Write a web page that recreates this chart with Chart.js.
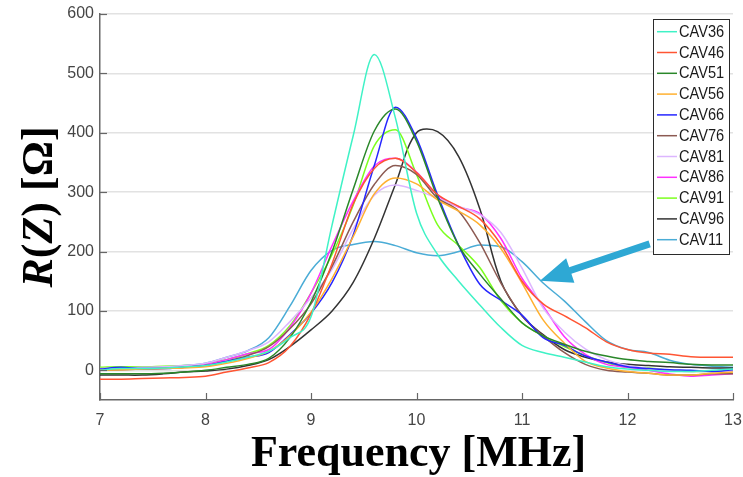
<!DOCTYPE html>
<html>
<head>
<meta charset="utf-8">
<script src="https://cdn.jsdelivr.net/npm/chart.js@4/dist/chart.umd.min.js"></script>
<style>
  html, body { margin: 0; padding: 0; background: #ffffff; }
  #wrap { width: 743px; height: 477px; position: relative; }
</style>
</head>
<body>
<div id="wrap"><canvas id="c" width="743" height="477"></canvas></div>
<script>
// ---------- data ----------
const freq = [7.0,7.2,7.4,7.6,7.8,8.0,8.2,8.4,8.6,8.8,9.0,9.2,9.4,9.6,9.8,10.0,10.2,10.4,10.6,10.8,11.0,11.2,11.4,11.6,11.8,12.0,12.2,12.4,12.6,12.8,13.0];
const seriesNames = ["CAV36","CAV46","CAV51","CAV56","CAV66","CAV76","CAV81","CAV86","CAV91","CAV96","CAV11"];
const cav36 = [0,3,3,4,6,8,14,22,32,55,90,245,395,532,425,265,195,150,110,72,42,30,22,14,6,2,0,-2,-2,0,2];
const cav46 = [-15,-15,-14,-13,-12,-10,-3,4,13,40,95,180,280,340,357,333,296,276,255,212,150,112,92,72,48,35,29,27,23,22,22];
const cav51 = [-6,-6,-6,-5,-3,0,5,10,20,55,115,200,305,403,440,386,290,210,162,120,80,58,44,32,24,18,15,13,10,9,9];
const cav56 = [0,1,2,3,4,6,12,20,32,58,98,155,225,297,324,314,287,268,245,205,147,85,46,15,4,-2,-5,-8,-8,-5,-3];
const cav66 = [2,5,3,3,5,8,15,22,30,60,96,148,228,345,443,391,295,210,145,118,93,55,42,24,14,6,3,1,0,-2,1];
const cav76 = [0,1,2,3,5,8,15,25,40,70,112,175,250,313,345,330,290,268,215,147,92,58,30,10,0,-3,-5,-8,-8,-6,-6];
const cav81 = [3,4,5,6,8,12,22,33,48,82,122,170,238,295,312,303,290,276,262,232,172,105,65,36,18,8,3,0,-2,-2,-2];
const cav86 = [2,3,4,5,7,10,18,28,35,72,130,210,285,344,357,334,295,275,264,222,155,108,57,27,10,5,0,-6,-10,-8,-6];
const cav91 = [5,6,6,7,8,10,18,28,42,75,130,195,278,378,405,330,245,210,173,117,80,58,40,25,13,5,4,0,-2,-2,-2];
const cav96 = [-8,-8,-8,-6,-3,-1,2,8,18,40,68,100,148,222,313,400,402,360,272,150,92,60,35,22,14,10,8,6,5,4,4];
const cav11 = [2,6,3,5,8,12,22,33,55,108,168,202,212,217,210,198,193,200,211,208,183,147,117,82,50,35,30,17,10,7,5];
const xTicks = [7,8,9,10,11,12,13];
const yTicks = [0,100,200,300,400,500,600];
const xTitle = "Frequency [MHz]";
const arrowFrom = [12.21, 213];
const arrowTo = [11.17, 151];

// ---------- styles ----------
const seriesValues = [cav36,cav46,cav51,cav56,cav66,cav76,cav81,cav86,cav91,cav96,cav11];
const colors = ["#3ff2c6","#ff5533","#2a872a","#ffb030","#2626ff","#8c5a52","#dcb6ff","#ff30ff","#7cff1e","#333333","#4aacd6"];

const datasets = seriesNames.map((name, i) => ({
  label: name,
  data: freq.map((f, j) => ({ x: f, y: seriesValues[i][j] })),
  borderColor: colors[i],
  backgroundColor: colors[i],
  borderWidth: 1.5,
  pointRadius: 0,
  fill: false,
  cubicInterpolationMode: name === 'CAV96' ? 'default' : 'monotone',
  tension: 0.35
}));

const decorPlugin = {
  id: 'decor',
  afterDatasetsDraw(chart) {
    const ctx = chart.ctx;
    const xs = chart.scales.x, ys = chart.scales.y;
    const ca = chart.chartArea;
    ctx.save();
    // inside ticks
    ctx.strokeStyle = '#666666';
    ctx.lineWidth = 1.2;
    xTicks.forEach(v => {
      const px = Math.round(xs.getPixelForValue(v)) + 0.5;
      ctx.beginPath(); ctx.moveTo(px, ca.bottom); ctx.lineTo(px, ca.bottom - 7); ctx.stroke();
    });
    yTicks.forEach(v => {
      const py = Math.round(ys.getPixelForValue(v)) + 0.5;
      ctx.beginPath(); ctx.moveTo(ca.left, py); ctx.lineTo(ca.left + 7, py); ctx.stroke();
    });

    // arrow
    const tx = xs.getPixelForValue(arrowFrom[0]), ty = ys.getPixelForValue(arrowFrom[1]);
    const hx = xs.getPixelForValue(arrowTo[0]), hy = ys.getPixelForValue(arrowTo[1]);
    const dx = hx - tx, dy = hy - ty, len = Math.hypot(dx, dy);
    const ux = dx / len, uy = dy / len, nx = -uy, ny = ux;
    const headLen = 32, headHalf = 13, shaftHalf = 3.5;
    const bx = hx - ux * headLen, by = hy - uy * headLen;
    ctx.fillStyle = '#2ea8d4';
    ctx.beginPath();
    ctx.moveTo(tx + nx * shaftHalf, ty + ny * shaftHalf);
    ctx.lineTo(bx + nx * shaftHalf, by + ny * shaftHalf);
    ctx.lineTo(bx + nx * headHalf, by + ny * headHalf);
    ctx.lineTo(hx, hy);
    ctx.lineTo(bx - nx * headHalf, by - ny * headHalf);
    ctx.lineTo(bx - nx * shaftHalf, by - ny * shaftHalf);
    ctx.lineTo(tx - nx * shaftHalf, ty - ny * shaftHalf);
    ctx.closePath();
    ctx.fill();

    // legend
    const lx = 653, ly = 19, lw = 76, lh = 235;
    ctx.fillStyle = '#ffffff';
    ctx.fillRect(lx, ly, lw, lh);
    ctx.strokeStyle = '#2b2b2b';
    ctx.lineWidth = 1;
    ctx.strokeRect(lx + 0.5, ly + 0.5, lw, lh);
    const step = 20.8;
    chart.data.datasets.forEach((ds, i) => {
      const cy = 31.7 + i * step;
      ctx.strokeStyle = ds.borderColor;
      ctx.lineWidth = 1.5;
      ctx.beginPath(); ctx.moveTo(657, cy); ctx.lineTo(677, cy); ctx.stroke();
      ctx.save();
      ctx.translate(679, cy);
      ctx.scale(0.86, 1);
      ctx.fillStyle = '#1a1a1a';
      ctx.font = '17px "Liberation Sans", Arial, sans-serif';
      ctx.textBaseline = 'middle';
      ctx.textAlign = 'left';
      ctx.fillText(ds.label, 0, 0.5);
      ctx.restore();
    });

    // x title
    ctx.fillStyle = '#000000';
    ctx.textAlign = 'center';
    ctx.textBaseline = 'alphabetic';
    ctx.font = 'bold 44px "Liberation Serif", "DejaVu Serif", serif';
    ctx.fillText(xTitle, (ca.left + ca.right) / 2 + 2, 466);

    // y title with italic R and Z
    const parts = [
      { t: 'R', f: 'italic bold 44px "Liberation Serif", serif' },
      { t: '(', f: 'bold 44px "Liberation Serif", serif' },
      { t: 'Z', f: 'italic bold 44px "Liberation Serif", serif' },
      { t: ') [Ω]', f: 'bold 44px "Liberation Serif", serif' }
    ];
    let total = 0;
    parts.forEach(p => { ctx.font = p.f; p.w = ctx.measureText(p.t).width; total += p.w; });
    ctx.save();
    ctx.translate(52, (ca.top + ca.bottom) / 2);
    ctx.rotate(-Math.PI / 2);
    ctx.textAlign = 'left';
    let cx = -total / 2;
    parts.forEach(p => { ctx.font = p.f; ctx.fillText(p.t, cx, 0); cx += p.w; });
    ctx.restore();

    ctx.restore();
  }
};

new Chart(document.getElementById('c'), {
  type: 'line',
  data: { datasets },
  options: {
    responsive: false,
    animation: false,
    devicePixelRatio: 1,
    layout: { padding: { top: 14, right: 0, left: 0, bottom: 0 } },
    plugins: { legend: { display: false }, tooltip: { enabled: false }, title: { display: false } },
    scales: {
      x: {
        type: 'linear',
        min: 7, max: 13,
        afterBuildTicks: s => { s.ticks = xTicks.map(v => ({ value: v })); },
        afterFit: s => { s.height = 77; s.paddingRight = 10; s.paddingLeft = 0; },
        grid: { display: false, drawTicks: false },
        border: { display: true, color: '#666666', width: 1.5 },
        ticks: { padding: 11, color: '#454545', font: { family: '"Liberation Sans", Arial, sans-serif', size: 16 }, maxRotation: 0, autoSkip: false }
      },
      y: {
        type: 'linear',
        min: -50, max: 600,
        afterBuildTicks: s => { s.ticks = yTicks.map(v => ({ value: v })); },
        afterFit: s => { s.width = 100; s.paddingTop = 0; s.paddingBottom = 0; },
        grid: { color: '#e2e2e2', lineWidth: 1.5, drawTicks: false },
        border: { display: true, color: '#666666', width: 1.5 },
        ticks: { padding: 6, color: '#454545', font: { family: '"Liberation Sans", Arial, sans-serif', size: 16 } }
      }
    }
  },
  plugins: [decorPlugin]
});
</script>
</body>
</html>
